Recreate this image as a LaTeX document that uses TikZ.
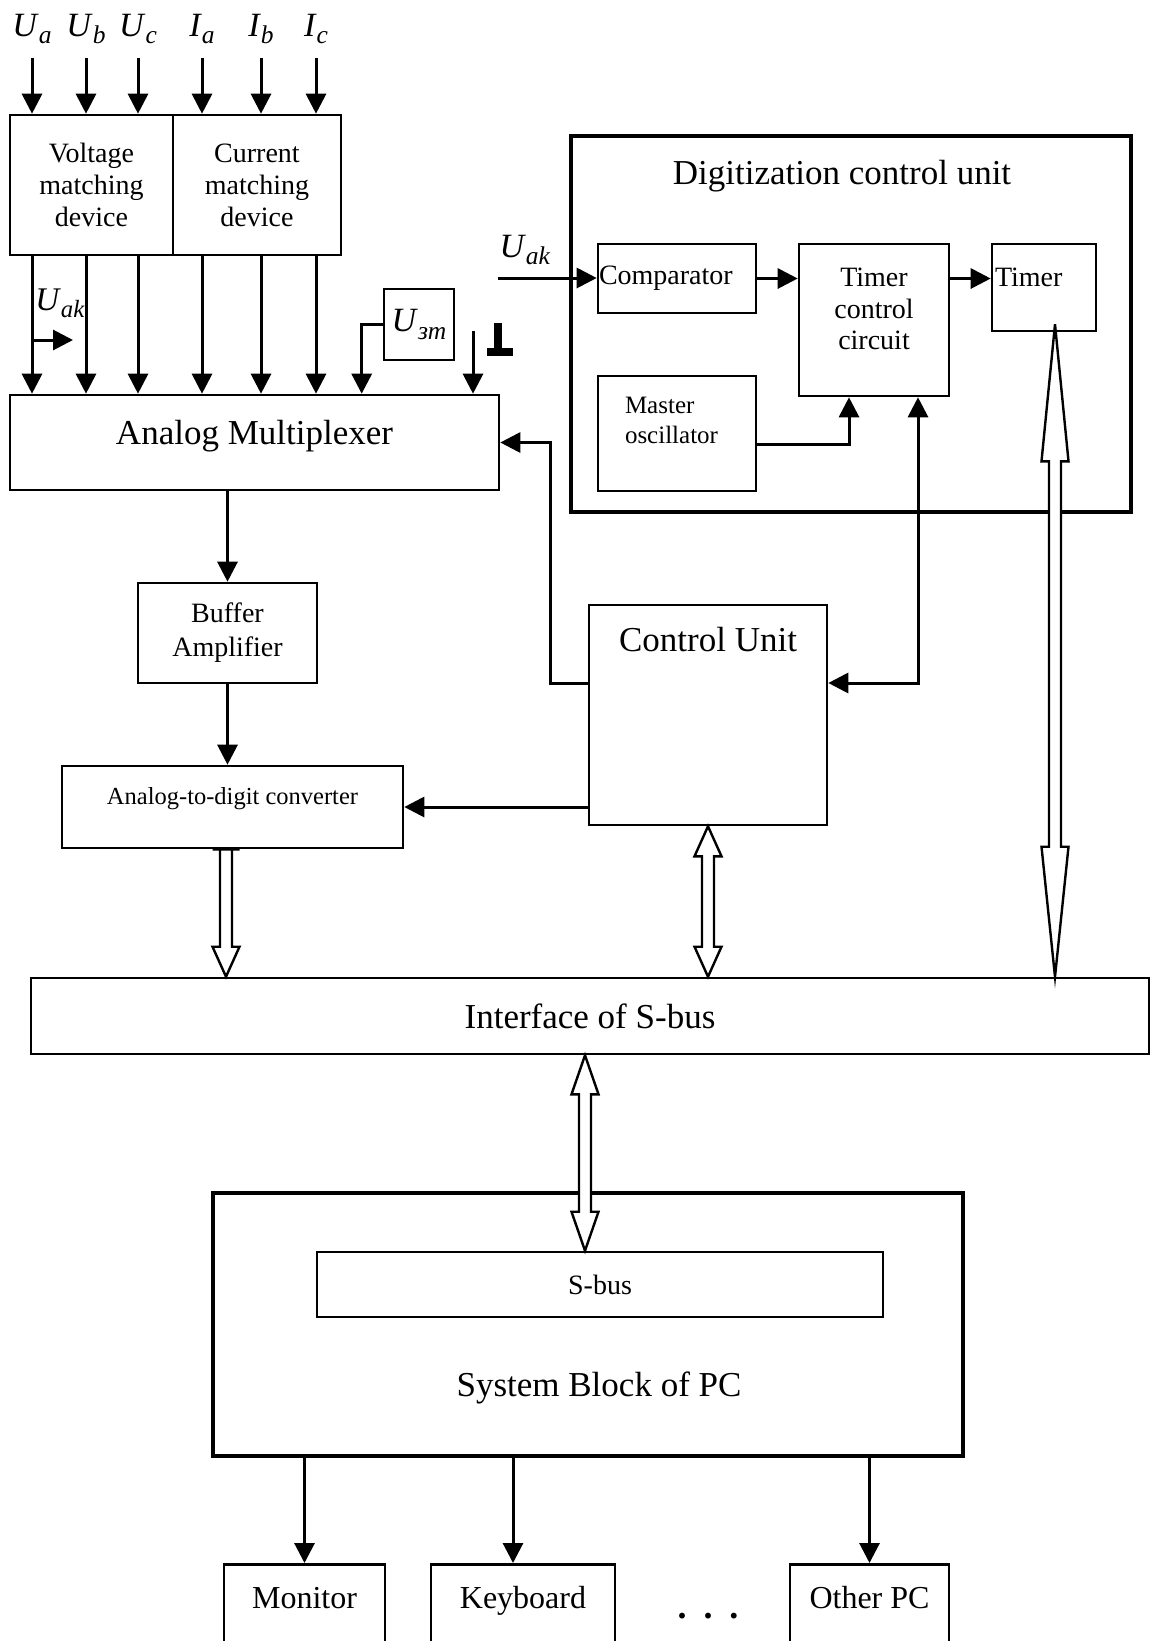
\documentclass[tikz,border=0pt]{standalone}
\usepackage{fontspec}
\setmainfont{Liberation Serif}
\usepackage{graphicx}
\usetikzlibrary{arrows.meta,calc}

\newcommand{\sig}[2]{\textit{#1}\raisebox{-0.22em}{\scalebox{0.75}{\textit{#2}}}}
\newcommand{\busarrow}[4]{%
  \draw[bus] let \p1=(#1), \p2=(#2) in
    (\x1,\y1) -- (\x1+13.5pt,\y1-#3) -- (\x1+6pt,\y1-#3) -- (\x1+6pt,\y2+#4)
    -- (\x1+13.5pt,\y2+#4) -- (\x1,\y2) -- (\x1-13.5pt,\y2+#4) -- (\x1-6pt,\y2+#4)
    -- (\x1-6pt,\y1-#3) -- (\x1-13.5pt,\y1-#3) -- cycle;}

\begin{document}
\begin{tikzpicture}[x=1pt, y=-1pt,
                    box/.style = {draw=black, line width=2.6pt, inner sep=0pt, align=center},
                    frame/.style = {draw=black, line width=3.5pt, inner sep=0pt},
                    sig/.style = {inner sep=0pt, font=\fontsize{34}{36}\selectfont},
                    bigtext/.style = {font=\fontsize{35}{40}\selectfont},
                    midtext/.style = {font=\fontsize{28}{32}\selectfont},
                    arr/.style = {line width=3pt, -{Triangle[length=20pt, width=20pt]}},
                    arrs/.style = {line width=3pt, {Triangle[length=20pt, width=20pt]}-{Triangle[length=20pt, width=20pt]}},
                    bus/.style = {draw=black, fill=white, line width=2.4pt}
                ]
                    \useasboundingbox (0,0) rectangle (1151,1641);
                    \clip (0,0) rectangle (1151,1641);

                    \node[box, midtext, minimum width=163, minimum height=140] (vmd) at (91.5,185) {Voltage\\matching\\device};
                    \node[box, midtext, minimum width=168, minimum height=140] (cmd) at (257,185) {Current\\matching\\device};
                    \node[box, bigtext, minimum width=489, minimum height=95, text height=23pt, text depth=19pt] (mux) at (254.5,442.5) {Analog Multiplexer};
                    \node[box, sig, minimum width=70, minimum height=71] (uzm) at (419,324.5) {\sig{U}{зm}};
                    \node[box, font=\fontsize{28}{34}\selectfont, minimum width=179, minimum height=100] (buf) at (227.5,633) {Buffer\\Amplifier};
                    \node[box, font=\fontsize{24.5}{28}\selectfont, minimum width=341, minimum height=82, text height=16pt, text depth=22pt] (adc) at (232.5,807) {Analog-to-digit converter};
                    \node[box, bigtext, minimum width=238, minimum height=220, text height=23pt, text depth=150pt] (cu) at (708,715) {Control Unit};

                    \foreach \x/\n/\s in {32/ua/{\sig{U}{a}}, 86/ub/{\sig{U}{b}}, 138/uc/{\sig{U}{c}}, 202/ia/{\sig{I}{a}}, 261/ib/{\sig{I}{b}}, 316/ic/{\sig{I}{c}}}{
                        \node[sig, anchor=base] (\n) at (\x,36) {\s};
                        \draw[arr, shorten <=14pt] (\n.south) -- (\n.south |- vmd.north);
                        \draw[arr] (\n.south |- vmd.south) -- (\n.south |- mux.north);
                    }

                    \node[sig, font=\fontsize{33}{36}\selectfont] (uakl) at (60,303) {\sig{U}{ak}};
                    \coordinate (uaktap) at (32,340);
                    \coordinate (uakend) at (73,340);
                    \draw[arr] (uaktap) -- (uakend);

                    \draw[arr] (uzm.west) -| ($(mux.north west)+(353,0)$);
                    \coordinate (gnd) at (473,331);
                    \draw[arr] (gnd) -- (gnd |- mux.north);
                    \fill (494,323) rectangle (502,349);
                    \fill (487,348) rectangle (513,356);

                    \draw[arr] (buf.north |- mux.south) -- (buf.north);
                    \draw[arr] (buf.south) -- (buf.south |- adc.north);
                    \draw[arr] (adc.east -| cu.west) -- (adc.east);
                    \draw[arr] ([yshift=32pt]cu.west) -- ++(-37,0) |- (mux.east);

                    \node[frame, minimum width=560, minimum height=376] (dcu) at (851,324) {};
                    \node[bigtext] (dcutitle) at (842,176) {Digitization control unit};
                    \node[box, midtext, minimum width=158, minimum height=69, text width=156pt, align=left] (comp) at (677,278.5) {Comparator};
                    \node[box, font=\fontsize{28}{31.5}\selectfont, minimum width=150, minimum height=152, text width=150pt, text height=19pt, text depth=86pt] (tcc) at (874,320) {Timer\\control\\circuit};
                    \node[box, midtext, minimum width=104, minimum height=87, text width=98pt, align=left, text height=18.5pt, text depth=21pt] (timer) at (1044,287.5) {Timer};
                    \node[box, font=\fontsize{25}{30}\selectfont, minimum width=158, minimum height=115, text width=104pt, align=left, text height=17pt, text depth=57pt] (mo) at (677,433.5) {Master\\oscillator};

                    \node[sig] (uakr) at (525,250) {\sig{U}{ak}};
                    \coordinate (uakin) at (498,278);
                    \draw[arr] (uakin) -- (uakin -| comp.west);
                    \draw[arr] (comp.east) -- (comp.east -| tcc.west);
                    \draw[arr] (comp.east -| tcc.east) -- (comp.east -| timer.west);
                    \draw[arr] ([yshift=-10.5pt]mo.east) -| ([xshift=-25pt]tcc.south);
                    \draw[arrs] ([yshift=32pt]cu.east) -| ([xshift=44pt]tcc.south);

                    \node[box, bigtext, minimum width=1118, minimum height=76] (iface) at (590,1016) {Interface of S-bus};
                    \node[frame, minimum width=750, minimum height=263] (sysb) at (588,1324.5) {};
                    \node[bigtext] (sysbtitle) at (599,1388) {System Block of PC};
                    \node[box, midtext, minimum width=566, minimum height=65] (sbus) at (600,1284.5) {S-bus};

                    \node[box, font=\fontsize{32}{36}\selectfont, anchor=north, minimum width=161, minimum height=120, text height=21pt, text depth=52pt] (mon) at (304.5,1563) {Monitor};
                    \node[box, font=\fontsize{32}{36}\selectfont, anchor=north, minimum width=184, minimum height=120, text height=21pt, text depth=52pt] (kbd) at (523,1563) {Keyboard};
                    \node[box, font=\fontsize{32}{36}\selectfont, anchor=north, minimum width=159, minimum height=120, text height=21pt, text depth=52pt] (opc) at (869.5,1563) {Other PC};
                    \node[font=\fontsize{36}{36}\selectfont\bfseries] (dots) at (708,1616) {.\hspace{17pt}.\hspace{17pt}.};

                    \coordinate (kbdin) at ([xshift=-10pt]kbd.north);
                    \draw[arr] (mon.north |- sysb.south) -- (mon.north);
                    \draw[arr] (kbdin |- sysb.south) -- (kbdin);
                    \draw[arr] (opc.north |- sysb.south) -- (opc.north);

                    \busarrow{[xshift=-6.5pt]adc.south}{iface.north}{0pt}{30pt}
                    \busarrow{cu.south}{iface.north}{30pt}{30pt}
                    \busarrow{[xshift=11pt,yshift=8pt]timer.south}{iface.north}{137pt}{130pt}
                    \busarrow{[xshift=-5pt]iface.south}{sbus.north}{39pt}{39pt}
                \end{tikzpicture}
\end{document}
